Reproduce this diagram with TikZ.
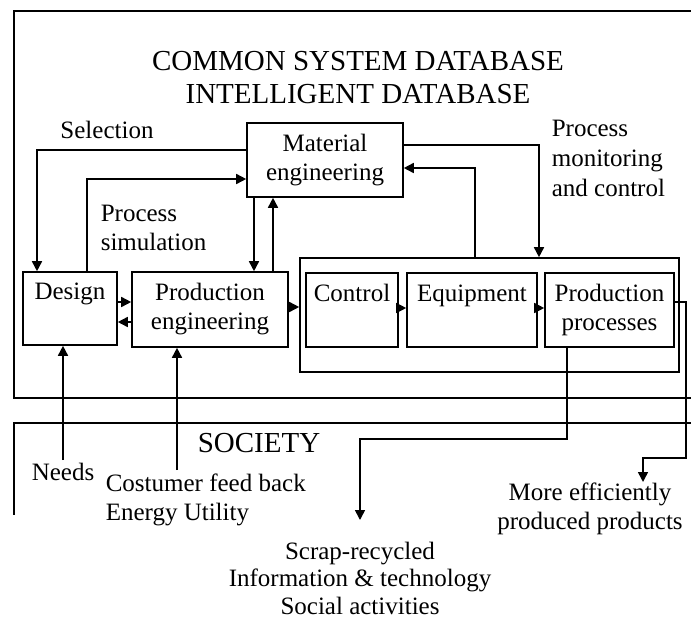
\documentclass[tikz,border=0pt]{standalone}
\usepackage{fontspec}
\setmainfont{Liberation Serif}
\usetikzlibrary{arrows.meta}

\begin{document}
\begin{tikzpicture}
		[
			x=1pt, y=-1pt,
			line width=1.6pt,
			>={Triangle[length=10pt,width=10pt]},
			every node/.style = {font=\fontsize{25}{29}\selectfont, inner sep=0pt},
			box/.style = {rectangle, align=center, draw=black, fill=none},
			lbl/.style = {align=left, anchor=west},
			big/.style = {font=\fontsize{29}{33}\selectfont, align=center},
		]
		\useasboundingbox (0,0) rectangle (691,622);

		% frames
		\draw (691,11) -- (14,11) -- (14,398) -- (691,398);
		\draw (691,423) -- (14,423) -- (14,515);

		\node[big] (title) 	at ( 358,  78 ) {COMMON SYSTEM DATABASE\\INTELLIGENT DATABASE};
		\node[big] (soc) 	at ( 259, 443 ) {SOCIETY};

		% blocks
		\node[box, minimum width=156pt, minimum height=74pt] (mat) 	at ( 325.0, 160.0 ) {Material\\engineering};
		\node[box, minimum width=94pt,  minimum height=73pt] (des) 	at (  70.0, 308.5 ) {Design\\\phantom{g}};
		\node[box, minimum width=156pt, minimum height=75pt] (peng) 	at ( 210.0, 309.5 ) {Production\\engineering};
		\node[box, minimum width=379pt, minimum height=114pt] (grp) 	at ( 489.5, 315.0 ) {};
		\node[box, minimum width=92pt,  minimum height=74pt] (ctl) 	at ( 352.0, 310.0 ) {Control\\\phantom{g}};
		\node[box, minimum width=130pt, minimum height=74pt] (eqp) 	at ( 472.0, 310.0 ) {Equipment\\\phantom{g}};
		\node[box, minimum width=129pt, minimum height=74pt] (pp) 	at ( 609.5, 310.0 ) {Production\\processes};

		% labels
		\node (sel) 		at ( 107, 130 ) {Selection};
		\node[lbl] (sim) 	at ( 100, 228 ) {Process\\simulation};
		\node[lbl, font=\fontsize{25}{30}\selectfont] (mon) 	at ( 551, 158 ) {Process\\monitoring\\and control};
		\node (needs) 		at (  63, 472 ) {Needs};
		\node[lbl] (cust) 	at ( 105, 500 ) {Costumer feed back\\Energy Utility};
		\node[align=center, font=\fontsize{25}{27.5}\selectfont] (scrap) 	at ( 360, 578 ) {Scrap-recycled\\Information \& technology\\Social activities};
		\node[align=center] (prod) 	at ( 590, 509 ) {More efficiently\\produced products};

		\coordinate (needsout) 	at (  63, 460 );
		\coordinate (custout) 	at ( 177, 470 );
		\coordinate (scrapin) 	at ( 360, 520 );
		\coordinate (prodin) 	at ( 643, 482 );

		% connectors
		\draw[->] ([yshift=10pt]mat.west) -| ([xshift=-33pt]des.north);
		\draw[->] ([xshift=17pt]des.north) |- ([yshift=-19pt]mat.west);
		\draw[->] ([xshift=-71pt]mat.south) -- ([xshift=44pt]peng.north);
		\draw[->] ([xshift=63pt]peng.north) -- ([xshift=-52pt]mat.south);
		\draw[->] ([yshift=6.5pt]des.east) -- ([yshift=7.5pt]peng.west);
		\draw[->] ([yshift=-12.5pt]peng.west) -- ([yshift=-13.5pt]des.east);
		\draw[->] ([yshift=2.5pt]peng.east) -- ([yshift=8pt]grp.west);
		\foreach \from/\to in {ctl/eqp,eqp/pp}
		\draw[->] ([yshift=2pt]\from.east) -- ([yshift=2pt]\to.west);
		\draw[->] ([xshift=-14.5pt]grp.north) |- ([yshift=-8pt]mat.east);
		\draw[->] ([yshift=15pt]mat.east) -| ([xshift=49.5pt]grp.north);
		\draw[->] ([yshift=8pt]pp.east) -| (686,458) -| (prodin);
		\draw[->] ([xshift=-42.5pt]pp.south) |- (360,439) -- (scrapin);
		\draw[->] (needsout) -- ([xshift=-7pt]des.south);
		\draw[->] (custout) -- ([xshift=-33pt]peng.south);

		\end{tikzpicture}
\end{document}
